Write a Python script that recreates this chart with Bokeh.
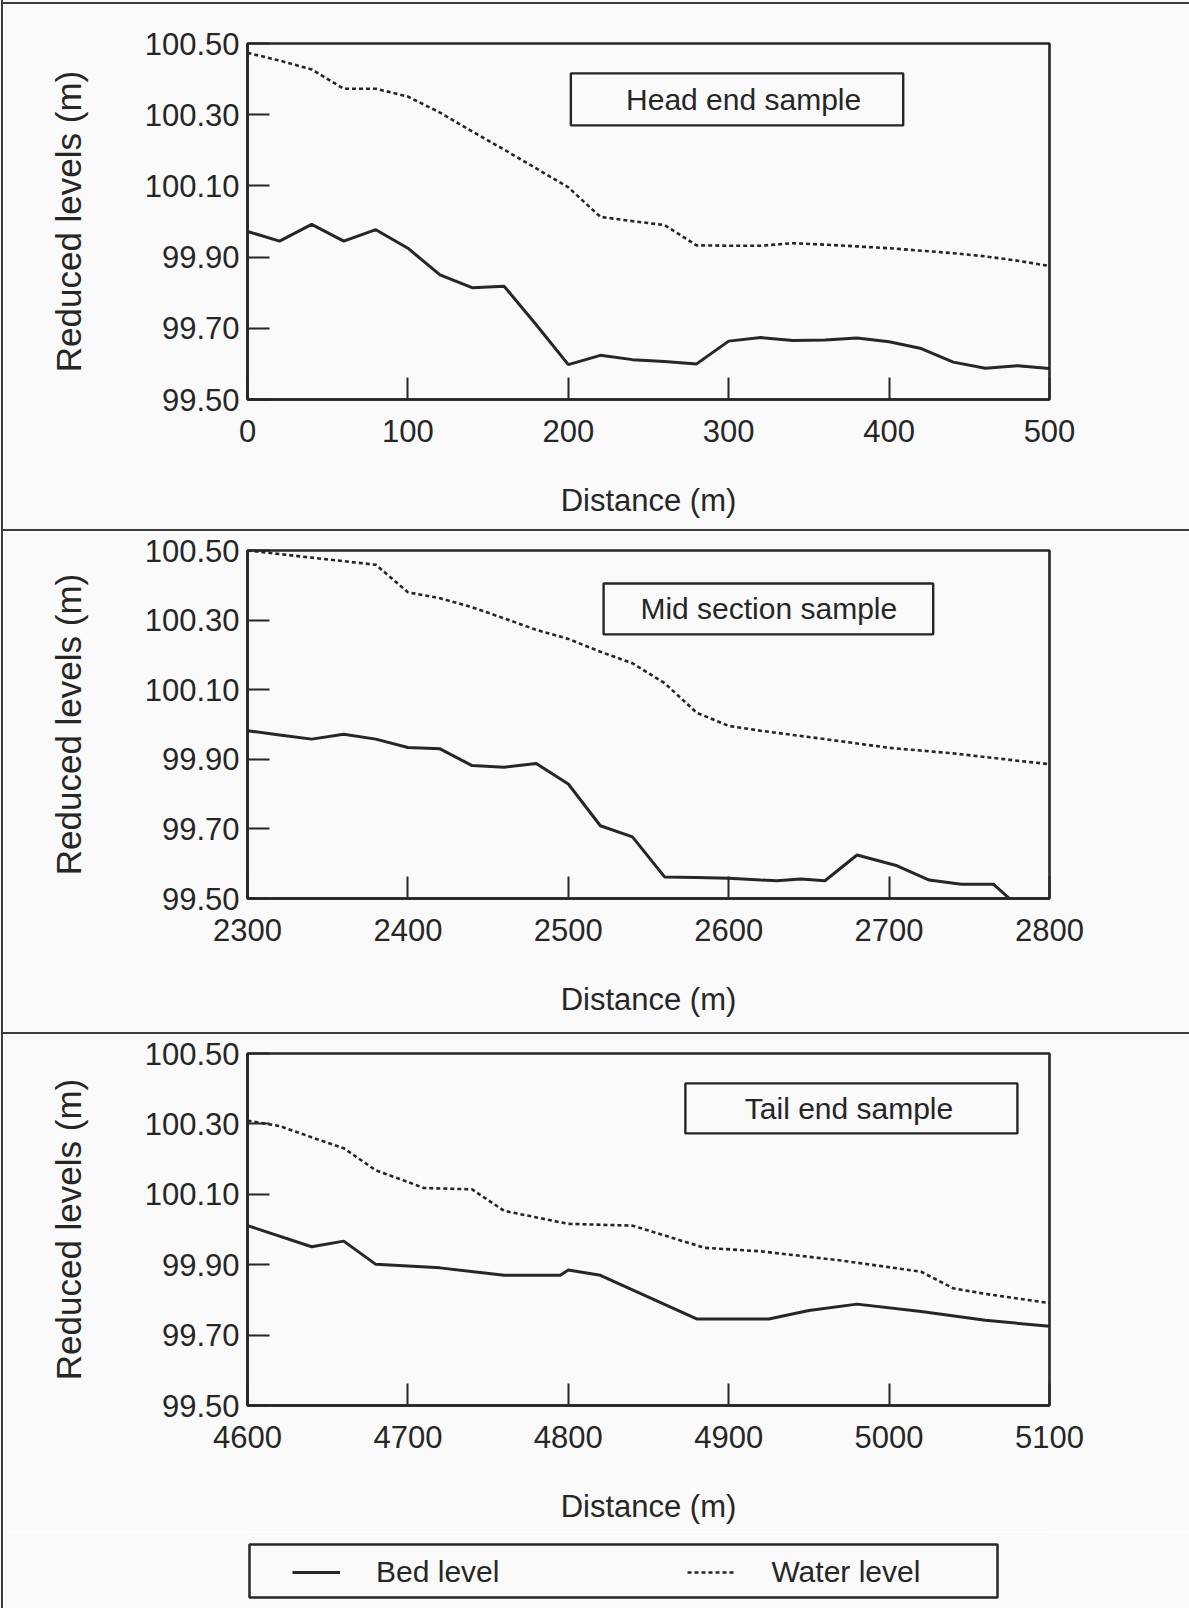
from bokeh.plotting import figure
from bokeh.models import (Range1d, FixedTicker, PrintfTickFormatter, BoxAnnotation,
                          Label, Legend, LegendItem, Div)
from bokeh.layouts import column, row
from bokeh.embed import file_html
from bokeh.resources import INLINE

# ---------------- data ----------------
y_ticks = [99.5, 99.7, 99.9, 100.1, 100.3, 100.5]

head_x_ticks = [0, 100, 200, 300, 400, 500]
head_bed_dist = [0, 20, 40, 60, 80, 100, 120, 140, 160, 180, 200, 220, 240, 260, 280,
                 300, 320, 340, 360, 380, 400, 420, 440, 460, 480, 500]
head_bed = [99.972, 99.945, 99.992, 99.945, 99.977, 99.925, 99.850, 99.814, 99.818, 99.710,
            99.598, 99.624, 99.612, 99.607, 99.600, 99.664, 99.674, 99.666, 99.667, 99.673,
            99.662, 99.643, 99.605, 99.588, 99.595, 99.587]
head_water_dist = [0, 20, 40, 60, 80, 100, 120, 140, 160, 180, 200, 220, 240, 260, 280,
                   300, 320, 340, 360, 380, 400, 420, 440, 460, 480, 500]
head_water = [100.474, 100.452, 100.427, 100.373, 100.373, 100.351, 100.306, 100.253,
              100.202, 100.149, 100.096, 100.013, 100.001, 99.990, 99.933, 99.932, 99.932,
              99.939, 99.935, 99.930, 99.925, 99.918, 99.911, 99.902, 99.890, 99.875]

mid_x_ticks = [2300, 2400, 2500, 2600, 2700, 2800]
mid_bed_dist = [2300, 2320, 2340, 2360, 2380, 2400, 2420, 2440, 2460, 2480, 2500, 2520, 2540,
                2560, 2580, 2600, 2620, 2630, 2645, 2660, 2680, 2705, 2725, 2745, 2765,
                2775, 2785]
mid_bed = [99.982, 99.970, 99.958, 99.972, 99.958, 99.934, 99.930, 99.882, 99.877, 99.888,
           99.829, 99.709, 99.677, 99.562, 99.560, 99.558, 99.553, 99.551, 99.556, 99.551,
           99.625, 99.594, 99.553, 99.541, 99.541, 99.500, 99.460]
mid_water_dist = [2300, 2380, 2400, 2420, 2440, 2460, 2480, 2500, 2520, 2540, 2560, 2580,
                  2600, 2620, 2660, 2700, 2740, 2780, 2800]
mid_water = [100.500, 100.459, 100.380, 100.363, 100.337, 100.305, 100.272, 100.246,
             100.209, 100.176, 100.119, 100.034, 99.996, 99.982, 99.958, 99.933, 99.917,
             99.896, 99.886]

tail_x_ticks = [4600, 4700, 4800, 4900, 5000, 5100]
tail_bed_dist = [4600, 4640, 4660, 4680, 4720, 4760, 4795, 4800, 4820, 4880, 4925, 4950,
                 4980, 5020, 5060, 5100]
tail_bed = [100.011, 99.951, 99.967, 99.901, 99.891, 99.870, 99.870, 99.885, 99.870, 99.746,
            99.746, 99.770, 99.788, 99.767, 99.742, 99.725]
tail_water_dist = [4600, 4620, 4640, 4660, 4680, 4700, 4710, 4740, 4760, 4800, 4840, 4885,
                   4920, 4970, 5020, 5040, 5060, 5100]
tail_water = [100.309, 100.294, 100.262, 100.231, 100.168, 100.135, 100.118, 100.114,
              100.053, 100.016, 100.011, 99.948, 99.938, 99.912, 99.880, 99.833, 99.817,
              99.791]

titles = ["Head end sample", "Mid section sample", "Tail end sample"]
series_names = ["Bed level", "Water level"]

# ---------------- style ----------------
FONT = "Liberation Sans"
INK = "#262626"
PAPER = "#fafafa"
TOTAL_W = 1186
ML, FW = 244, 802
MR = TOTAL_W - ML - FW
BED_W, WATER_W, WATER_DASH = 3.0, 2.6, "4 3"


def panel(x_rng, xticks, bdist, bed, wdist, water, title, box, txt, mt, mb, fh):
    p = figure(width=TOTAL_W, height=mt + fh + mb,
               frame_width=FW, frame_height=fh,
               min_border_left=ML, min_border_right=MR,
               min_border_top=mt, min_border_bottom=mb,
               x_range=Range1d(*x_rng), y_range=Range1d(99.5, 100.5),
               output_backend="svg", toolbar_location=None)
    p.background_fill_color = PAPER
    p.border_fill_color = PAPER
    p.outline_line_color = INK
    p.outline_line_width = 2.6
    p.xgrid.visible = False
    p.ygrid.visible = False

    p.line(bdist, bed, line_color=INK, line_width=BED_W)
    p.line(wdist, water, line_color=INK, line_width=WATER_W, line_dash=WATER_DASH)

    for ax in (p.xaxis[0], p.yaxis[0]):
        ax.axis_line_color = INK
        ax.axis_line_width = 2.6
        ax.major_tick_in = 22
        ax.major_tick_out = 0
        ax.major_tick_line_color = INK
        ax.major_tick_line_width = 2
        ax.minor_tick_line_color = None
        ax.major_label_text_font = FONT
        ax.major_label_text_font_size = "31px"
        ax.major_label_text_color = INK
        ax.axis_label_text_font = FONT
        ax.axis_label_text_font_style = "normal"
        ax.axis_label_text_color = INK

    p.xaxis.ticker = FixedTicker(ticks=xticks)
    p.xaxis.formatter = PrintfTickFormatter(format="%d")
    p.xaxis.major_label_standoff = 20
    p.xaxis.axis_label = "Distance (m)"
    p.xaxis.axis_label_text_font_size = "31px"
    p.xaxis.axis_label_standoff = 38

    p.yaxis.ticker = FixedTicker(ticks=y_ticks)
    p.yaxis.formatter = PrintfTickFormatter(format="%.2f")
    p.yaxis.major_label_standoff = 8
    p.yaxis.axis_label = "Reduced levels (m)"
    p.yaxis.axis_label_text_font_size = "35px"
    p.yaxis.axis_label_standoff = 54

    l, r, b, t = box
    p.add_layout(BoxAnnotation(left=l, right=r, bottom=b, top=t,
                               fill_alpha=0.0, line_color=INK, line_alpha=1.0,
                               line_width=2.4))
    p.add_layout(Label(x=txt[0], y=txt[1], text=title, text_align="center",
                       text_baseline="middle", text_font=FONT,
                       text_font_size="30px", text_color=INK))
    return p


p1 = panel((0, 500), head_x_ticks, head_bed_dist, head_bed, head_water_dist, head_water,
           titles[0], (201.6, 408.8, 100.270, 100.416), (309.3, 100.343),
           39, 130, 356)
p2 = panel((2300, 2800), mid_x_ticks, mid_bed_dist, mid_bed, mid_water_dist, mid_water,
           titles[1], (2522.0, 2727.5, 100.259, 100.405), (2625.0, 100.333),
           19, 134, 348)
p3 = panel((4600, 5100), tail_x_ticks, tail_bed_dist, tail_bed, tail_water_dist,
           tail_water, titles[2], (4873.0, 5080.0, 100.273, 100.415),
           (4975.0, 100.344), 19, 127, 352)

# ---------------- legend strip (page-pixel coordinates) ----------------
LEG_H = 76
pl = figure(width=TOTAL_W, height=LEG_H, frame_width=FW, frame_height=LEG_H,
            min_border_left=ML, min_border_right=MR, min_border_top=0, min_border_bottom=0,
            x_range=Range1d(247, 1049), y_range=Range1d(1608, 1532),
            x_axis_type=None, y_axis_type=None,
            output_backend="svg", toolbar_location=None)
pl.background_fill_color = PAPER
pl.border_fill_color = PAPER
pl.outline_line_color = None
pl.xgrid.visible = False
pl.ygrid.visible = False
pl.add_layout(BoxAnnotation(left=249, right=997, top=1544, bottom=1597,
                            fill_alpha=0.0, line_color=INK, line_alpha=1.0, line_width=2.5))
# the series themselves lie far outside this strip's ranges; only their legend glyphs show
r_bed = pl.line(tail_bed_dist, tail_bed, line_color=INK, line_width=BED_W)
r_water = pl.line(tail_water_dist, tail_water, line_color=INK, line_width=WATER_W,
                  line_dash=WATER_DASH)
legend = Legend(items=[LegendItem(label=series_names[0], renderers=[r_bed]),
                       LegendItem(label=series_names[1], renderers=[r_water])],
                orientation="horizontal", location=(45, 19),
                glyph_width=48, glyph_height=30, label_standoff=36, spacing=188,
                padding=0, margin=0, border_line_color=None, background_fill_alpha=0.0,
                label_text_font=FONT, label_text_font_size="30px", label_text_color=INK)
pl.add_layout(legend)


def rule(w, h, color="#3c3c3c"):
    return Div(text="", width=w, height=h, margin=0,
               styles={"background-color": color})


page = row(rule(1, 1608, PAPER), rule(2, 1608),
           column(rule(TOTAL_W, 2, PAPER), rule(TOTAL_W, 2), p1, rule(TOTAL_W, 2), p2,
                  rule(TOTAL_W, 2), p3, pl, spacing=0),
           spacing=0)

open("out.html", "w").write(file_html(page, INLINE))
